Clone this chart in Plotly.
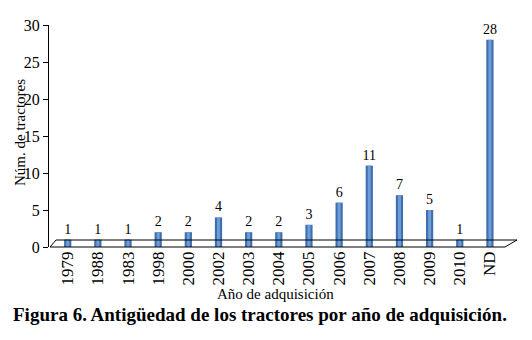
import plotly.graph_objects as go

years = ["1979", "1988", "1983", "1998", "2000", "2002", "2003", "2004",
         "2005", "2006", "2007", "2008", "2009", "2010", "ND"]
counts = [1, 1, 1, 2, 2, 4, 2, 2, 3, 6, 11, 7, 5, 1, 28]
y_ticks = [0, 5, 10, 15, 20, 25, 30]

FONT = "Liberation Serif, Times New Roman, serif"
W, H = 532, 340
L, R, T, B = 49, 27, 25, 93
PW = W - L - R
PH = H - T - B

def px(x):
    return (x - L) / PW

def py(y):
    return (H - B - y) / PH

fig = go.Figure()
fig.add_trace(go.Bar(
    x=list(range(len(years))), y=counts, width=0.24,
    marker=dict(color="#3f6fae", line=dict(width=0)),
    text=[str(c) for c in counts], textposition="outside",
    constraintext="none",
    textfont=dict(family=FONT, size=14, color="black"),
    cliponaxis=False, hoverinfo="skip", showlegend=False,
))
fig.add_trace(go.Bar(
    x=list(range(len(years))), y=counts, width=0.1,
    marker=dict(color="#6d9dd8", line=dict(width=0)),
    hoverinfo="skip", showlegend=False,
))

# 3D floor outline
fig.add_shape(type="path", xref="paper", yref="paper",
              path=f"M {px(50)} {py(247)} L {px(56)} {py(240)} L {px(517)} {py(240)} L {px(505)} {py(247)} Z",
              line=dict(color="black", width=1), layer="above")

fig.update_layout(
    width=W, height=H,
    margin=dict(l=L, r=R, t=T, b=B),
    paper_bgcolor="white", plot_bgcolor="white",
    barmode="overlay",
    font=dict(family=FONT, color="black"),
    xaxis=dict(
        range=[-0.62, 14.5],
        tickmode="array", tickvals=list(range(len(years))), ticktext=years,
        tickangle=-90, tickfont=dict(family=FONT, size=17, color="black"),
        showline=False, showgrid=False, zeroline=False, ticks="",
    ),
    yaxis=dict(
        range=[0, 30], tickmode="array", tickvals=y_ticks,
        tickfont=dict(family=FONT, size=16, color="black"),
        showline=True, linecolor="black", linewidth=1,
        ticks="outside", ticklen=5, tickcolor="black",
        showgrid=False, zeroline=False,
    ),
    annotations=[
        dict(text="Núm. de tractores", xref="paper", yref="paper",
             x=px(20), y=py(133), textangle=-90, showarrow=False,
             font=dict(family=FONT, size=15, color="black"),
             xanchor="center", yanchor="middle"),
        dict(text="Año de adquisición", xref="paper", yref="paper",
             x=px(275), y=py(294), showarrow=False,
             font=dict(family=FONT, size=15, color="black"),
             xanchor="center", yanchor="middle"),
        dict(text="<b>Figura 6. Antigüedad de los tractores por año de adquisición.</b>",
             xref="paper", yref="paper",
             x=px(260), y=py(314), showarrow=False,
             font=dict(family=FONT, size=19, color="black"),
             xanchor="center", yanchor="middle"),
    ],
)

fig.write_html("out.html", config={"displayModeBar": False},
               post_script="document.body.style.margin='0';document.body.style.padding='0';")
